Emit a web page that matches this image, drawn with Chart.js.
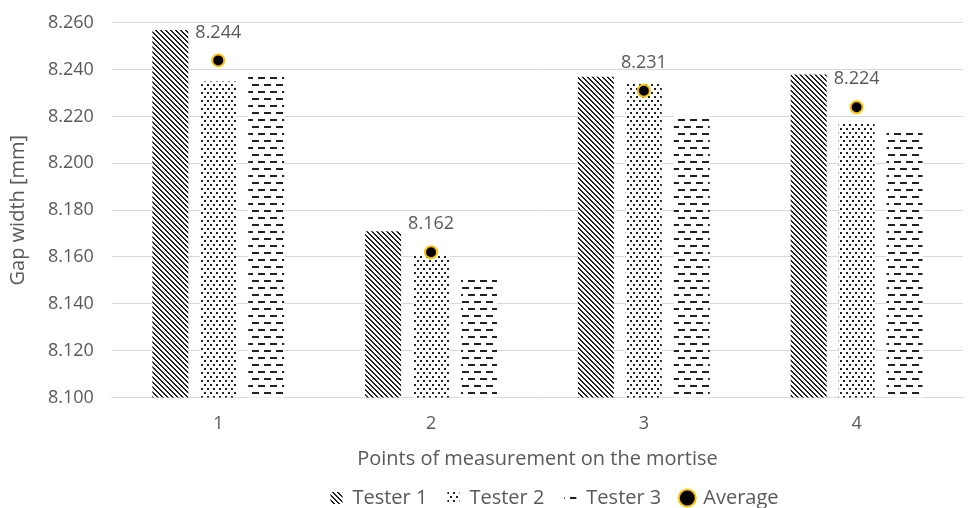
<!DOCTYPE html>
<html>
<head>
<meta charset="utf-8">
<script src="https://cdn.jsdelivr.net/npm/chart.js@4/dist/chart.umd.min.js"></script>
<style>
  html, body { margin: 0; padding: 0; background: #fff; }
  #wrap { width: 971px; height: 508px; }
</style>
</head>
<body>
<div id="wrap"><canvas id="chart"></canvas></div>
<script>
const categories = ['1', '2', '3', '4']
const tester1 = [8.257, 8.171, 8.237, 8.238]
const tester2 = [8.235, 8.161, 8.234, 8.217]
const tester3 = [8.239, 8.151, 8.221, 8.215]
const average = [8.244, 8.162, 8.231, 8.224]
const yTicks = [8.1, 8.12, 8.14, 8.16, 8.18, 8.2, 8.22, 8.24, 8.26]

function makePattern(w, h, draw) {
  const c = document.createElement('canvas')
  c.width = w
  c.height = h
  const g = c.getContext('2d')
  g.fillStyle = '#fff'
  g.fillRect(0, 0, w, h)
  g.fillStyle = '#222'
  draw(g)
  return document.createElement('canvas').getContext('2d').createPattern(c, 'repeat')
}

// downward diagonal stripes
const stripes = makePattern(5, 5, (g) => {
  for (let i = 0; i < 5; i++) {
    g.fillRect(i, i, 1, 1)
    g.fillRect((i + 1) % 5, i, 1, 1)
  }
})
// staggered dots
const dots = makePattern(6, 8, (g) => {
  g.fillRect(0, 0, 2, 2)
  g.fillRect(3, 4, 2, 2)
})
// staggered dashes
const dashes = makePattern(12, 14, (g) => {
  g.fillRect(0, 0, 7, 2)
  g.fillRect(6, 7, 6, 2)
  g.fillRect(0, 7, 1, 2)
})

const font = "'Open Sans', 'Liberation Sans', sans-serif"
const grey = '#595959'

const avgLabels = {
  id: 'avgLabels',
  afterDatasetsDraw(chart) {
    const ctx = chart.ctx
    const meta = chart.getDatasetMeta(3)
    ctx.save()
    ctx.font = '18px ' + font
    ctx.fillStyle = grey
    ctx.textAlign = 'center'
    ctx.textBaseline = 'middle'
    meta.data.forEach((pt, i) => {
      ctx.fillText(average[i].toFixed(3), pt.x, pt.y - 28)
    })
    ctx.restore()
  },
}

// legend sits a bit right of centre in the original
const legendShift = {
  id: 'legendShift',
  afterLayout(chart) {
    chart.legend.left += 66
    chart.legend.right += 66
  },
}

new Chart(document.getElementById('chart'), {
  data: {
    labels: categories,
    datasets: [
      { type: 'bar', label: 'Tester 1', data: tester1, backgroundColor: stripes, pointStyle: 'rect', order: 2 },
      { type: 'bar', label: 'Tester 2', data: tester2, backgroundColor: dots, pointStyle: 'rect', order: 2 },
      { type: 'bar', label: 'Tester 3', data: tester3, backgroundColor: dashes, pointStyle: 'rect', order: 2 },
      {
        type: 'line',
        label: 'Average',
        data: average,
        showLine: false,
        pointStyle: 'circle',
        pointRadius: 6,
        pointHoverRadius: 6,
        pointBackgroundColor: '#000',
        pointBorderColor: '#ffc000',
        pointBorderWidth: 2,
        backgroundColor: '#000',
        borderColor: '#ffc000',
        borderWidth: 2,
        order: 1,
      },
    ],
  },
  options: {
    responsive: true,
    maintainAspectRatio: false,
    animation: false,
    layout: { padding: { left: 0, right: -6, top: 0, bottom: -10 } },
    datasets: {
      bar: { categoryPercentage: 0.676, barPercentage: 0.75 },
    },
    scales: {
      x: {
        grid: { display: false, drawTicks: false },
        border: { color: '#d9d9d9' },
        ticks: { color: grey, font: { family: font, size: 18 }, padding: 16 },
        title: {
          display: true,
          text: 'Points of measurement on the mortise',
          color: grey,
          font: { family: font, size: 20 },
          padding: { top: -4, bottom: -3 },
        },
      },
      y: {
        min: 8.1,
        max: 8.26,
        afterBuildTicks: (axis) => {
          axis.ticks = yTicks.map((v) => ({ value: v }))
        },
        grid: { color: '#d9d9d9', drawTicks: false },
        border: { display: false },
        ticks: {
          color: grey,
          font: { family: font, size: 18, lineHeight: 0.55 },
          padding: 18,
          callback: (v) => Number(v).toFixed(3),
        },
        title: {
          display: true,
          text: 'Gap width [mm]',
          color: grey,
          font: { family: font, size: 20 },
          padding: { top: 6, bottom: 0 },
        },
      },
    },
    plugins: {
      legend: {
        position: 'bottom',
        labels: {
          usePointStyle: true,
          boxWidth: 12,
          boxHeight: 12,
          padding: 20,
          color: grey,
          font: { family: font, size: 20 },
          sort: (a, b) => a.datasetIndex - b.datasetIndex,
        },
      },
      tooltip: { enabled: false },
    },
  },
  plugins: [avgLabels, legendShift],
})
</script>
</body>
</html>
